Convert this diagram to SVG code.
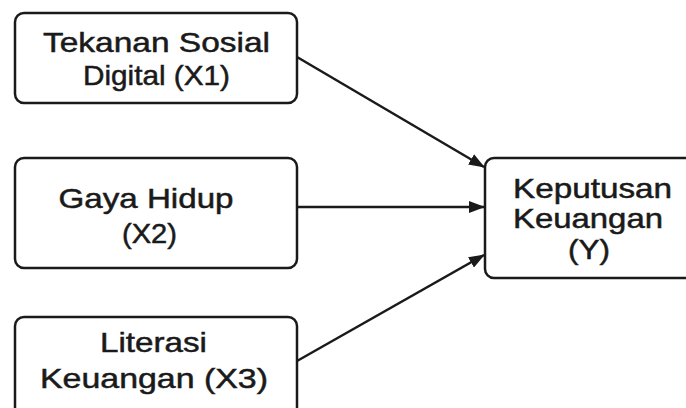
<svg xmlns="http://www.w3.org/2000/svg" width="686" height="408" viewBox="0 0 686 408">
<style>
.box{fill:#fff;stroke:#1a1a1a;stroke-width:2.5}
.t{font-family:"Liberation Sans",Arial,sans-serif;font-size:28px;fill:#1a1a1a;stroke:#1a1a1a;stroke-width:0.5;text-anchor:middle}
.edge{stroke:#1a1a1a;stroke-width:2.5;fill:none;marker-end:url(#ah)}
</style>
<defs>
<marker id="ah" markerUnits="userSpaceOnUse" markerWidth="16" markerHeight="12" refX="15" refY="6" orient="auto">
<path d="M0,0 L16,6 L0,12 Z" fill="#1a1a1a"/>
</marker>
</defs>
<rect width="686" height="408" fill="#fff"/>
<g id="x1">
<rect class="box" x="15" y="13" width="282" height="90" rx="9"/>
<text class="t" x="156.5" y="52" textLength="227" lengthAdjust="spacingAndGlyphs">Tekanan Sosial</text>
<text class="t" x="156.5" y="85" textLength="147" lengthAdjust="spacingAndGlyphs">Digital (X1)</text>
</g>
<g id="x2">
<rect class="box" x="15" y="158" width="282" height="110" rx="9"/>
<text class="t" x="146" y="208" textLength="175" lengthAdjust="spacingAndGlyphs">Gaya Hidup</text>
<text class="t" x="149.5" y="243" textLength="55" lengthAdjust="spacingAndGlyphs">(X2)</text>
</g>
<g id="x3">
<rect class="box" x="15" y="317" width="282" height="100" rx="9"/>
<text class="t" x="153.5" y="352" textLength="107" lengthAdjust="spacingAndGlyphs">Literasi</text>
<text class="t" x="154" y="388" textLength="228" lengthAdjust="spacingAndGlyphs">Keuangan (X3)</text>
</g>
<g id="y">
<rect class="box" x="485" y="158" width="215" height="120" rx="9"/>
<text class="t" x="592.5" y="198" textLength="159" lengthAdjust="spacingAndGlyphs">Keputusan</text>
<text class="t" x="588" y="228" textLength="150" lengthAdjust="spacingAndGlyphs">Keuangan</text>
<text class="t" x="589" y="259" textLength="42" lengthAdjust="spacingAndGlyphs">(Y)</text>
</g>
<g id="connectors">
<line class="edge" x1="297" y1="57" x2="484" y2="167"/>
<line class="edge" x1="297" y1="207" x2="484" y2="207"/>
<line class="edge" x1="297" y1="361" x2="484" y2="255"/>
</g>
</svg>
